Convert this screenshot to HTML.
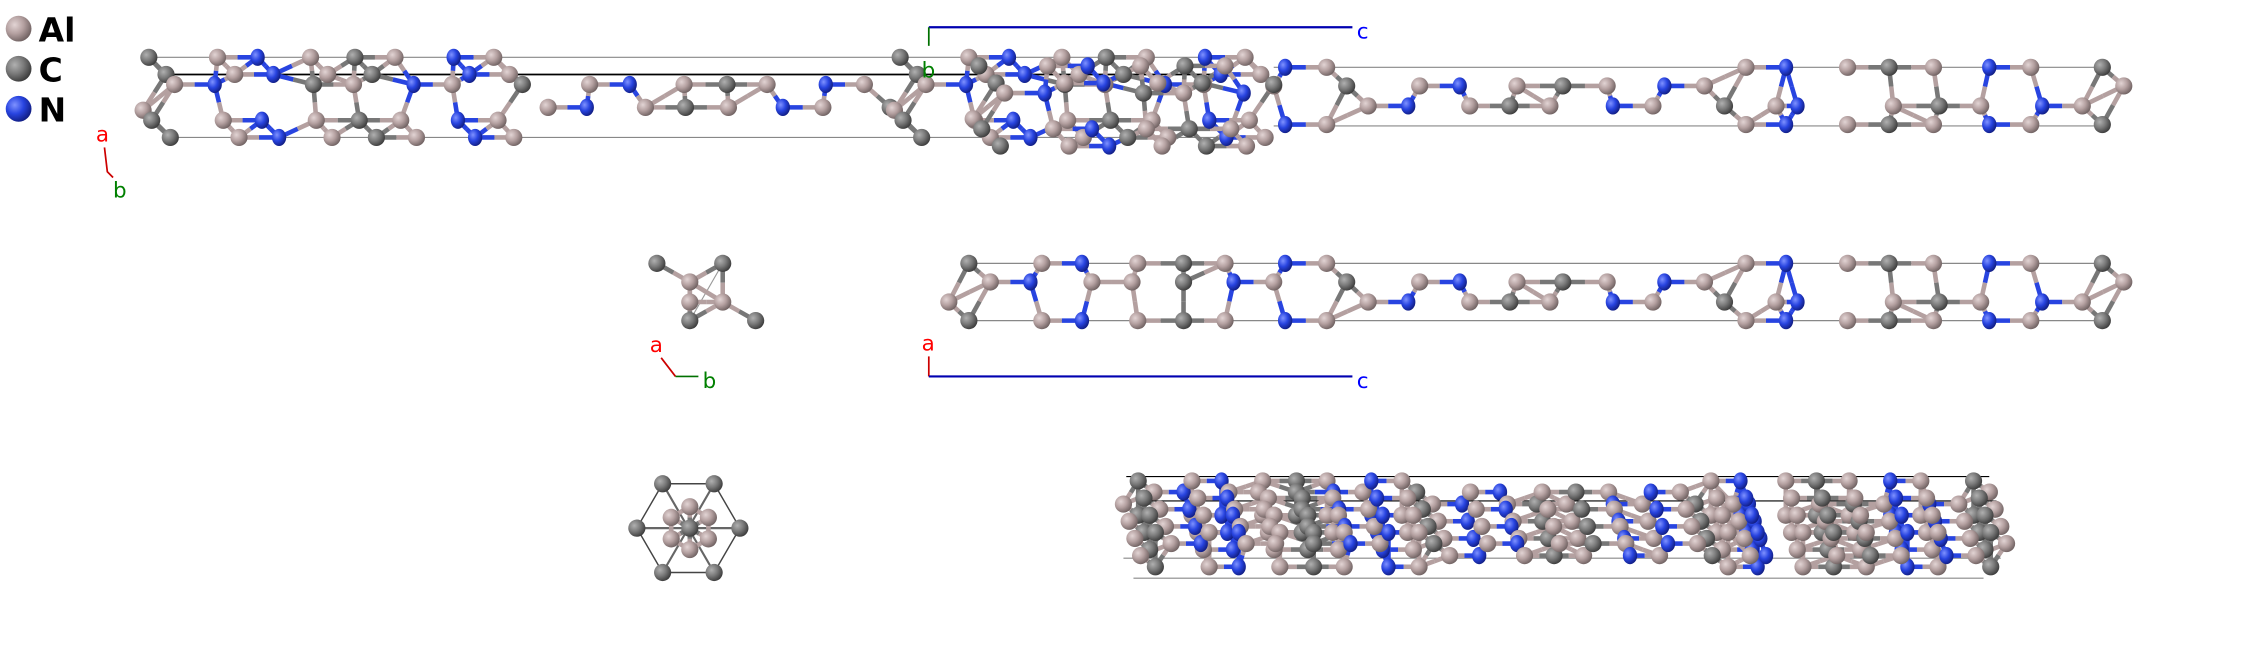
<!DOCTYPE html>
<html><head><meta charset="utf-8"><style>
html,body{margin:0;padding:0;background:#fff;}
svg{display:block}
text{font-family:"DejaVu Sans","Liberation Sans",sans-serif;}
</style></head><body>
<svg id="s" width="2244" height="667" viewBox="0 0 1568 466" xmlns="http://www.w3.org/2000/svg">
<defs>
<radialGradient id="gA" cx="35%" cy="35%" r="70%"><stop offset="0" stop-color="#e2d4d4"/><stop offset="0.5" stop-color="#b4a0a0"/><stop offset="1" stop-color="#6e6060"/></radialGradient>
<radialGradient id="gC" cx="35%" cy="35%" r="70%"><stop offset="0" stop-color="#b0b0b0"/><stop offset="0.5" stop-color="#7a7a7a"/><stop offset="1" stop-color="#3a3a3a"/></radialGradient>
<radialGradient id="gN" cx="35%" cy="35%" r="70%"><stop offset="0" stop-color="#7f92ff"/><stop offset="0.5" stop-color="#2844e0"/><stop offset="1" stop-color="#101c80"/></radialGradient>
</defs>
<g id="lines" stroke-width="0.8" fill="none">
<line x1="104" y1="40" x2="869" y2="40" stroke="#888"/>
<line x1="119" y1="96" x2="884" y2="96" stroke="#888"/>
<line x1="116" y1="52" x2="885" y2="52" stroke="#000" stroke-width="1.2"/>
<line x1="890" y1="47" x2="1469" y2="47" stroke="#888"/>
<line x1="890" y1="88" x2="1469" y2="88" stroke="#888"/>
<line x1="677" y1="184" x2="1469" y2="184" stroke="#888"/>
<line x1="677" y1="224" x2="1469" y2="224" stroke="#888"/>
<line x1="787" y1="333" x2="1390" y2="333" stroke="#000"/>
<line x1="792" y1="404" x2="1386" y2="404" stroke="#888"/>
<line x1="780" y1="350" x2="1395" y2="350" stroke="#000"/>
<line x1="785" y1="390" x2="1398" y2="390" stroke="#888"/>
<line x1="459" y1="184" x2="528" y2="224" stroke="#999"/>
<line x1="505" y1="184" x2="482" y2="224" stroke="#999"/>
<polygon points="463,338 499,338 517,369 499,400 463,400 445,369" stroke="#444" stroke-width="1"/>
<path d="M463,338L499,400M499,338L463,400M445,369L517,369" stroke="#666" stroke-width="1.5"/>
</g>
<g id="bonds"></g>
<g id="atoms"></g>
<circle cx="13" cy="20" r="9" fill="url(#gA)"/><text x="27" y="29" font-size="23" font-weight="bold">Al</text>
<circle cx="13" cy="48" r="9" fill="url(#gC)"/><text x="27" y="57" font-size="23" font-weight="bold">C</text>
<circle cx="13" cy="76" r="9" fill="url(#gN)"/><text x="27" y="85" font-size="23" font-weight="bold">N</text>
<line x1="649" y1="19" x2="945" y2="19" stroke="#0000b0" stroke-width="1.5"/>
<line x1="649" y1="19" x2="649" y2="32" stroke="#007000" stroke-width="1.2"/>
<text x="948" y="27" font-size="15" fill="#0000ff">c</text>
<text x="644" y="54" font-size="15" fill="#008000">b</text>
<text x="67" y="99" font-size="15" fill="#ff0000">a</text>
<polyline points="73,103 75,120 79,124" fill="none" stroke="#cc0000" stroke-width="1.2"/>
<text x="79" y="138" font-size="15" fill="#008000">b</text>
<text x="454" y="246" font-size="15" fill="#ff0000">a</text>
<polyline points="462,250 472,263" fill="none" stroke="#cc0000" stroke-width="1.2"/>
<line x1="472" y1="263" x2="488" y2="263" stroke="#007000" stroke-width="1.2"/>
<text x="491" y="271" font-size="15" fill="#008000">b</text>
<text x="644" y="245" font-size="15" fill="#ff0000">a</text>
<line x1="649" y1="249" x2="649" y2="263" stroke="#cc0000" stroke-width="1.2"/>
<line x1="649" y1="263" x2="945" y2="263" stroke="#0000b0" stroke-width="1.5"/>
<text x="948" y="271" font-size="15" fill="#0000ff">c</text>
</svg>
<script>
var mid=[["C",677,184],["A",663,211],["C",677,224],["A",692,197],["N",720,197],
["A",728,184],["N",756,184],["A",728,224],["N",756,224],["A",763,197],
["A",795,184],["C",827,184],["A",856,184],["A",791,197],["C",827,197],["A",795,224],["C",827,224],["A",856,224],
["N",862,197],["A",890,197],["N",898,184],["A",927,184],["N",898,224],["A",927,224],
["C",941,197],["A",956,211],["N",984,211],["A",992,197],["N",1020,197],["A",1027,211],["C",1055,211],["A",1083,211],
["A",1060,197],["C",1092,197],["A",1123,197],["N",1127,211],["A",1155,211],["N",1163,197],["A",1191,197],["C",1205,211],
["A",1220,184],["N",1248,184],["A",1220,224],["N",1248,224],["A",1241,211],["N",1256,211],
["A",1291,184],["C",1320,184],["A",1351,184],["A",1291,224],["C",1320,224],["A",1351,224],["A",1323,211],["C",1355,211],
["N",1390,184],["A",1419,184],["N",1390,224],["A",1419,224],["A",1384,211],["N",1427,211],["A",1455,211],
["C",1469,184],["A",1484,197],["C",1469,224]];
var leftBlk=[["C",104,40],["A",152,40],["N",180,40],["A",217,40],["C",248,40],["A",276,40],["N",317,40],["A",345,40],
["C",116,52],["A",164,52],["N",191,52],["A",229,52],["C",260,52],["N",328,52],["A",356,52],
["A",122,59],["N",150,59],["C",219,59],["A",247,59],["N",289,59],["A",316,59],["C",365,59],
["A",100,77],["C",106,84],["A",156,84],["N",183,84],["A",221,84],["C",251,84],["A",280,84],["N",320,84],["A",348,84],
["C",119,96],["A",167,96],["N",195,96],["A",232,96],["C",263,96],["A",291,96],["N",332,96],["A",359,96]];
var chain=[["A",383,75],["N",410,75],["A",412,59],["N",440,59],["A",451,75],["C",479,75],["A",509,75],["A",478,59],["C",508,59],["A",536,59],["N",547,75],["A",575,75],["N",577,59],["A",604,59],["C",622,75]];
var groups=[];
groups.push({a:mid,t:33});
groups.push({a:mid.filter(function(p){return p[1]>=890}).map(function(p){return [p[0],p[1],p[2]-137]}),t:33});
groups.push({a:leftBlk,t:31});
groups.push({a:chain,t:33});
groups.push({a:leftBlk.map(function(p){return [p[0],p[1]+525,p[2]]}),t:31});
groups.push({a:leftBlk.filter(function(p){return p[1]<300}).map(function(p){return [p[0],p[1]+580,p[2]+6]}),t:31});
groups.push({a:[["C",459,184],["C",505,184],["A",482,197],["A",505,211],["A",482,211],["C",482,224],["C",528,224]],t:30});
var hx=[["C",463,338],["C",499,338],["C",445,369],["C",517,369],["C",463,400],["C",499,400],["C",482,369]];
for(var i=0;i<6;i++){var an=i*Math.PI/3+Math.PI/6;hx.push(["A",482+15*Math.cos(an),369+15*Math.sin(an)]);}
groups.push({a:hx,t:18});
for(var k=0;k<4;k++){
 groups.push({a:mid.map(function(p){return [p[0],785+(p[1]-663)*0.737+k*4,336+(p[2]-184)*0.6+k*12]}),t:26});
}
var NS="http://www.w3.org/2000/svg",B=document.getElementById("bonds"),A=document.getElementById("atoms");
var col={A:"#b4a0a0",C:"#777",N:"#2844e0"},gr={A:"url(#gA)",C:"url(#gC)",N:"url(#gN)"};
function ln(x1,y1,x2,y2,c){var l=document.createElementNS(NS,"line");l.setAttribute("x1",x1);l.setAttribute("y1",y1);l.setAttribute("x2",x2);l.setAttribute("y2",y2);l.setAttribute("stroke",c);l.setAttribute("stroke-width",3.2);B.appendChild(l);}
groups.forEach(function(g){var a=g.a;
 for(var i=0;i<a.length;i++)for(var j=i+1;j<a.length;j++){var dx=a[j][1]-a[i][1],dy=a[j][2]-a[i][2],d=Math.sqrt(dx*dx+dy*dy);
  if(d>0&&d<g.t){var mx=(a[i][1]+a[j][1])/2,my=(a[i][2]+a[j][2])/2;ln(a[i][1],a[i][2],mx,my,col[a[i][0]]);ln(mx,my,a[j][1],a[j][2],col[a[j][0]]);}}
 a.forEach(function(p){var c=document.createElementNS(NS,"ellipse");c.setAttribute("cx",p[1]);c.setAttribute("cy",p[2]);c.setAttribute("rx",p[0]=="N"?5:6);c.setAttribute("ry",6);c.setAttribute("fill",gr[p[0]]);A.appendChild(c);});
});
</script>
</body></html>
